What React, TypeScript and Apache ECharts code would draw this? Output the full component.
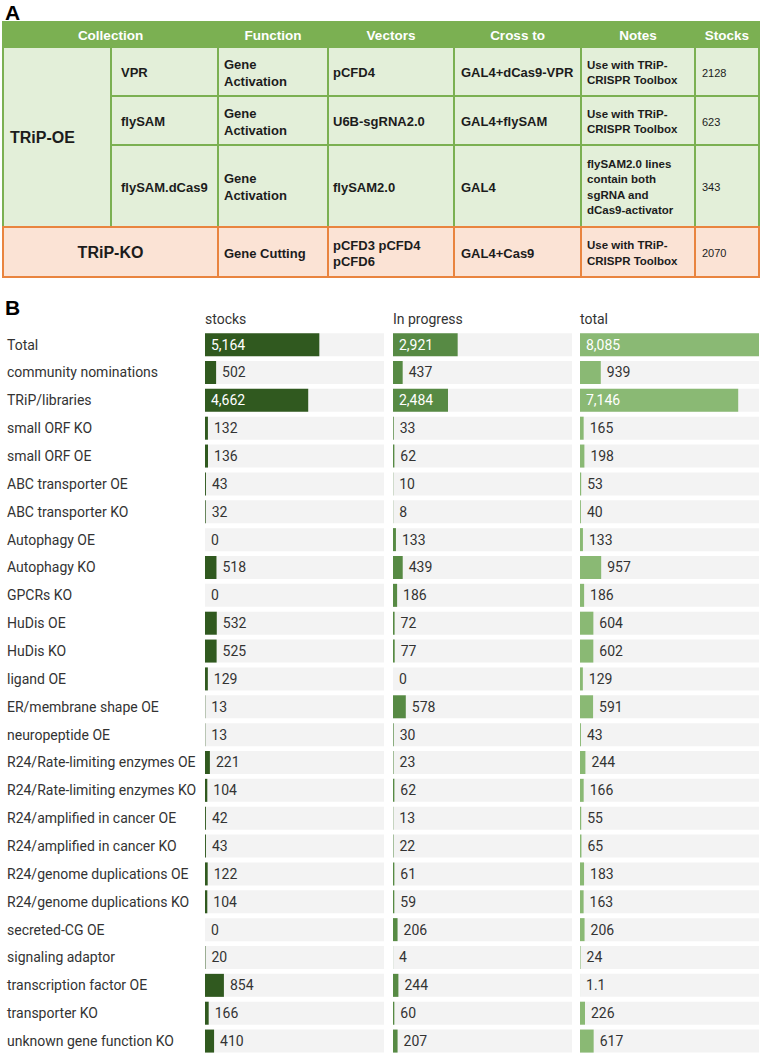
import React, { useEffect, useRef } from "react";
import * as echarts from "echarts";

// ---------- Panel A data ----------
const tableHeaders = ["Collection", "Function", "Vectors", "Cross to", "Notes", "Stocks"];
const oeCollection = "TRiP-OE";
const oeSub = ["VPR", "flySAM", "flySAM.dCas9"];
const oeFunction = ["Gene\nActivation", "Gene\nActivation", "Gene\nActivation"];
const oeVectors = ["pCFD4", "U6B-sgRNA2.0", "flySAM2.0"];
const oeCross = ["GAL4+dCas9-VPR", "GAL4+flySAM", "GAL4"];
const oeNotes = [
  "Use with TRiP-\nCRISPR Toolbox",
  "Use with TRiP-\nCRISPR Toolbox",
  "flySAM2.0 lines\ncontain both\nsgRNA and\ndCas9-activator",
];
const oeStocks = ["2128", "623", "343"];
const koRow = ["TRiP-KO", "Gene Cutting", "pCFD3 pCFD4\npCFD6", "GAL4+Cas9", "Use with TRiP-\nCRISPR Toolbox", "2070"];

// ---------- Panel B data ----------
const categories = [
  "Total",
  "community nominations",
  "TRiP/libraries",
  "small ORF KO",
  "small ORF OE",
  "ABC transporter OE",
  "ABC transporter KO",
  "Autophagy OE",
  "Autophagy KO",
  "GPCRs KO",
  "HuDis OE",
  "HuDis KO",
  "ligand OE",
  "ER/membrane shape OE",
  "neuropeptide OE",
  "R24/Rate-limiting enzymes OE",
  "R24/Rate-limiting enzymes KO",
  "R24/amplified in cancer OE",
  "R24/amplified in cancer KO",
  "R24/genome duplications OE",
  "R24/genome duplications KO",
  "secreted-CG OE",
  "signaling adaptor",
  "transcription factor OE",
  "transporter KO",
  "unknown gene function KO",
];
const stocks = [5164, 502, 4662, 132, 136, 43, 32, 0, 518, 0, 532, 525, 129, 13, 13, 221, 104, 42, 43, 122, 104, 0, 20, 854, 166, 410];
const inProgress = [2921, 437, 2484, 33, 62, 10, 8, 133, 439, 186, 72, 77, 0, 578, 30, 23, 62, 13, 22, 61, 59, 206, 4, 244, 60, 207];
const total = [8085, 939, 7146, 165, 198, 53, 40, 133, 957, 186, 604, 602, 129, 591, 43, 244, 166, 55, 65, 183, 163, 206, 24, 1.1, 226, 617];
const columnNames = ["stocks", "In progress", "total"];

const GREEN = "#7bb052";
const LIGHT_GREEN = "#e3efd9";
const PEACH = "#fbe3d5";
const ORANGE = "#e9843f";
const TXT = "#1c1c1c";
const SANS = '"Liberation Sans", Arial, sans-serif';
const ROBOTO = "Roboto, sans-serif";

function txt(text: string, x: number, y: number, font: string, align = "left", fill = TXT, lineHeight = 16) {
  return {
    type: "text",
    x,
    y,
    silent: true,
    style: {
      text,
      font,
      fill,
      align,
      verticalAlign: "middle",
      textAlign: align,
      textVerticalAlign: "middle",
      lineHeight,
    },
  };
}

function rect(x: number, y: number, w: number, h: number, fill: string, stroke: string) {
  return {
    type: "rect",
    silent: true,
    shape: { x, y, width: w, height: h },
    style: { fill, stroke, lineWidth: 2 },
  };
}

function buildTable() {
  const colX = [3, 111, 218, 328, 454, 581, 695, 759];
  const rowY = [22, 47, 96, 145, 227, 277];
  const els: any[] = [];
  const cellFont = `bold 13px ${SANS}`;
  const noteFont = `bold 11.5px ${SANS}`;
  const stockFont = `11px ${SANS}`;
  const pad = [10, 10, 6, 5, 7, 6, 7];

  // header
  els.push(rect(colX[0], rowY[0], colX[7] - colX[0], rowY[1] - rowY[0], GREEN, GREEN));
  const headerSpans = [[0, 2], [2, 3], [3, 4], [4, 5], [5, 6], [6, 7]];
  headerSpans.forEach(([a, b], i) => {
    els.push(txt(tableHeaders[i], (colX[a] + colX[b]) / 2, (rowY[0] + rowY[1]) / 2 + 1, `bold 13.5px ${SANS}`, "center", "#ffffff"));
  });

  // OE block
  els.push(rect(colX[0], rowY[1], colX[1] - colX[0], rowY[4] - rowY[1], LIGHT_GREEN, GREEN));
  els.push(txt(oeCollection, colX[0] + 7, (rowY[1] + rowY[4]) / 2, `bold 16px ${SANS}`));
  for (let r = 0; r < 3; r++) {
    const y0 = rowY[r + 1];
    const y1 = rowY[r + 2];
    const cy = (y0 + y1) / 2;
    const vals = [oeSub[r], oeFunction[r], oeVectors[r], oeCross[r], oeNotes[r], oeStocks[r]];
    for (let c = 1; c < 7; c++) {
      els.push(rect(colX[c], y0, colX[c + 1] - colX[c], y1 - y0, LIGHT_GREEN, GREEN));
      const font = c === 5 ? noteFont : c === 6 ? stockFont : cellFont;
      const lh = c === 5 ? 15.5 : 17;
      els.push(txt(vals[c - 1], colX[c] + pad[c], cy + 1, font, "left", TXT, lh));
    }
  }

  // KO row
  const ky0 = rowY[4];
  const ky1 = rowY[5];
  const kcy = (ky0 + ky1) / 2;
  const koSpans = [[0, 2], [2, 3], [3, 4], [4, 5], [5, 6], [6, 7]];
  koSpans.forEach(([a, b]) => {
    els.push(rect(colX[a], ky0, colX[b] - colX[a], ky1 - ky0, PEACH, ORANGE));
  });
  els.push(txt(koRow[0], (colX[0] + colX[2]) / 2, kcy, `bold 16px ${SANS}`, "center"));
  koSpans.slice(1).forEach(([a], i) => {
    const c = a;
    const font = c === 5 ? noteFont : c === 6 ? stockFont : cellFont;
    const lh = c === 5 ? 15.5 : 16;
    els.push(txt(koRow[i + 1], colX[c] + pad[c], kcy + 1, font, "left", TXT, lh));
  });

  // panel letters
  els.push(txt("A", 5, 12, `bold 21px ${SANS}`, "left", "#000"));
  els.push(txt("B", 5, 307, `bold 21px ${SANS}`, "left", "#000"));
  return els;
}

export default function App() {
  const ref = useRef<HTMLDivElement>(null);

  useEffect(() => {
    if (!ref.current) return;
    const chart = echarts.init(ref.current, undefined, { renderer: "svg" });

    const columns = [stocks, inProgress, total];
    const colors = ["#30591f", "#578a44", "#8ab974"];
    const lefts = [205, 393, 580];
    const bandW = 179;
    const maxVal = Math.max(...stocks, ...inProgress, ...total);
    const gridTop = 330.7;
    const gridH = 27.86 * categories.length;

    const fmt = (v: number) => (v >= 1000 ? v.toLocaleString("en-US") : String(v));

    const grids = lefts.map((l) => ({ left: l, top: gridTop, width: bandW, height: gridH }));
    const xAxes = lefts.map((_, i) => ({
      type: "value",
      gridIndex: i,
      min: 0,
      max: maxVal,
      show: false,
    }));
    const yAxes = lefts.map((_, i) => ({
      type: "category",
      gridIndex: i,
      data: categories,
      inverse: true,
      axisLine: { show: false },
      axisTick: { show: false },
      splitLine: { show: false },
      axisLabel: {
        show: i === 0,
        align: "left",
        margin: 198,
        fontFamily: ROBOTO,
        fontSize: 14,
        color: "#333",
      },
    }));
    const series = columns.map((vals, i) => ({
      type: "bar",
      xAxisIndex: i,
      yAxisIndex: i,
      barWidth: 23,
      showBackground: true,
      backgroundStyle: { color: "#f3f3f3" },
      itemStyle: { color: colors[i] },
      label: {
        show: true,
        position: "right",
        distance: 6,
        fontFamily: ROBOTO,
        fontSize: 14,
        color: "#333",
        formatter: (p: any) => fmt(p.value),
      },
      data: vals.map((v) =>
        v >= 2000
          ? { value: v, label: { position: "insideLeft", distance: 6, color: "#ffffff" } }
          : { value: v }
      ),
    }));

    const headerTexts = columnNames.map((n, i) => txt(n, lefts[i], 319, `14px ${ROBOTO}`, "left", "#333"));

    chart.setOption({
      animation: false,
      backgroundColor: "#ffffff",
      grid: grids,
      xAxis: xAxes,
      yAxis: yAxes,
      series,
      graphic: { elements: [...buildTable(), ...headerTexts] },
    });

    return () => chart.dispose();
  }, []);

  return (
    <div
      ref={ref}
      style={{ position: "absolute", left: 0, top: 0, width: 762, height: 1055 }}
    />
  );
}
